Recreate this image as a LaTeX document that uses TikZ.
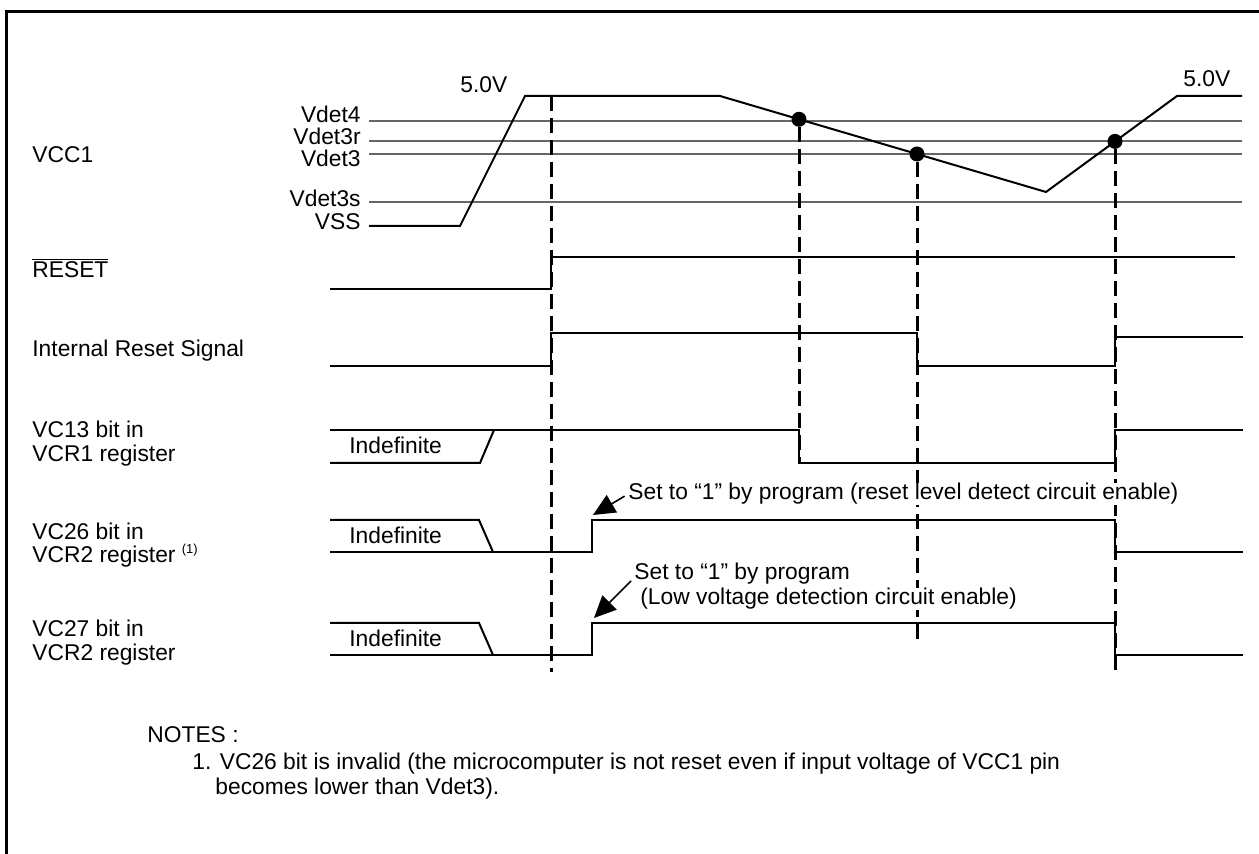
\documentclass[tikz,border=0pt]{standalone}
\usepackage{fontspec}
\setmainfont{Liberation Sans}
\usetikzlibrary{arrows.meta}
\begin{document}
\begin{tikzpicture}[x=0.5pt,y=-0.5pt,
  txt/.style={inner sep=0pt,anchor=base west,font=\fontsize{11.4}{13}\selectfont},
  rtxt/.style={txt,anchor=base east},
  sig/.style={line width=1pt,line join=miter},
  refl/.style={line width=0.75pt,black!60},
  guide/.style={line width=1.5pt,dash pattern=on 7.5pt off 3.5pt},
  vdot/.style={fill=black,circle,inner sep=0pt,minimum size=7.5pt},
  callout/.style={-{Triangle[length=11pt,width=10pt]},line width=0.8pt,shorten <=2pt},
  ctext/.style={txt,fill=white},
  frame/.style={line width=1.5pt}
]
\useasboundingbox (0,0) rectangle (1259,854);
% frame
\draw[frame] (6,854) -- (6,12) -- (1259,12);

% left labels
\node[txt] (lvcc) at (32,163) {VCC1};
\node[txt] (lreset) at (32,278) {$\overline{\mbox{RESET}}$};
\node[txt] (lint) at (32,357) {Internal Reset Signal};
\node[txt] (l13a) at (32,438) {VC13 bit in};
\node[txt] (l13b) at (32,462) {VCR1 register};
\node[txt] (l26a) at (32,540) {VC26 bit in};
\node[txt] (l26b) at (32,563) {VCR2 register \raisebox{4.5pt}{\fontsize{6.5}{7}\selectfont(1)}};
\node[txt] (l27a) at (32,637) {VC27 bit in};
\node[txt] (l27b) at (32,661) {VCR2 register};

% voltage level labels
\node[rtxt] (vd4) at (361,123) {Vdet4};
\node[rtxt] (vd3r) at (361,145) {Vdet3r};
\node[rtxt] (vd3) at (361,167) {Vdet3};
\node[rtxt] (vd3s) at (361,207) {Vdet3s};
\node[rtxt] (vss) at (361,230) {VSS};
\node[txt] (v5a) at (460,93) {5.0V};
\node[txt] (v5b) at (1183,87) {5.0V};

% reference level lines
\draw[refl] (369,121) -- (1242,121);
\draw[refl] (369,141) -- (1242,141);
\draw[refl] (369,154) -- (1242,154);
\draw[refl] (369,202) -- (1242,202);

% VCC1 waveform
\draw[sig] (369,226) -- (460,226) -- (525,96) -- (720,96) -- (1046,192) -- (1177,96) -- (1242,96);

% dots
\node[vdot] (p1) at (799,119.3) {};
\node[vdot] (p2) at (917,154) {};
\node[vdot] (p3) at (1115,141.4) {};

% guide lines
\coordinate (g0) at (551,96);
\coordinate (g0e) at (551,672);
\coordinate (g1e) at (799,463);
\coordinate (g2e) at (917,645);
\coordinate (g3e) at (1115,673);
\draw[guide] (g0) -- (g0e);
\draw[guide] (p1) -- (g1e);
\draw[guide] (p2) -- (g2e);
\draw[guide] (p3) -- (g3e);

% RESET
\draw[sig] (330,289) -- (551,289) -- (551,257) -- (1235,257);
% Internal reset
\draw[sig] (330,366) -- (551,366) -- (551,333) -- (917,333) -- (917,366) -- (1115,366) -- (1115,337) -- (1243,337);
% VC13
\draw[sig] (330,430) -- (799,430) -- (799,463) -- (1115,463) -- (1115,430) -- (1243,430);
\draw[sig] (330,463) -- (480,463) -- (494,430);
\node[txt] (ind1) at (349,454) {Indefinite};
% VC26
\draw[sig] (330,520) -- (479,520) -- (493,552);
\draw[sig] (330,552) -- (592,552) -- (592,520) -- (1115,520) -- (1115,552) -- (1243,552);
\node[txt] (ind2) at (349,544) {Indefinite};
% VC27
\draw[sig] (330,623) -- (479,623) -- (493,655);
\draw[sig] (330,655) -- (592,655) -- (592,623) -- (1115,623) -- (1115,655) -- (1243,655);
\node[txt] (ind3) at (349,647) {Indefinite};

% callouts
\node[ctext] (set1) at (628,500) {Set to “1” by program (reset level detect circuit enable)};
\node[ctext] (set2) at (634,580) {Set to “1” by program};
\node[ctext] (set2b) at (640,605) {(Low voltage detection circuit enable)};
\coordinate (t1) at (593,515);
\coordinate (t2) at (594,618);
\draw[callout] (set1.west) -- (t1);
\draw[callout] ([yshift=-2pt]set2.west) -- (t2);

% notes
\node[txt] (notes) at (147,743) {NOTES :};
\node[txt] (n1) at (192,770) {1. VC26 bit is invalid (the microcomputer is not reset even if input voltage of VCC1 pin};
\node[txt] (n1b) at (215,795) {becomes lower than Vdet3).};
\end{tikzpicture}
\end{document}
